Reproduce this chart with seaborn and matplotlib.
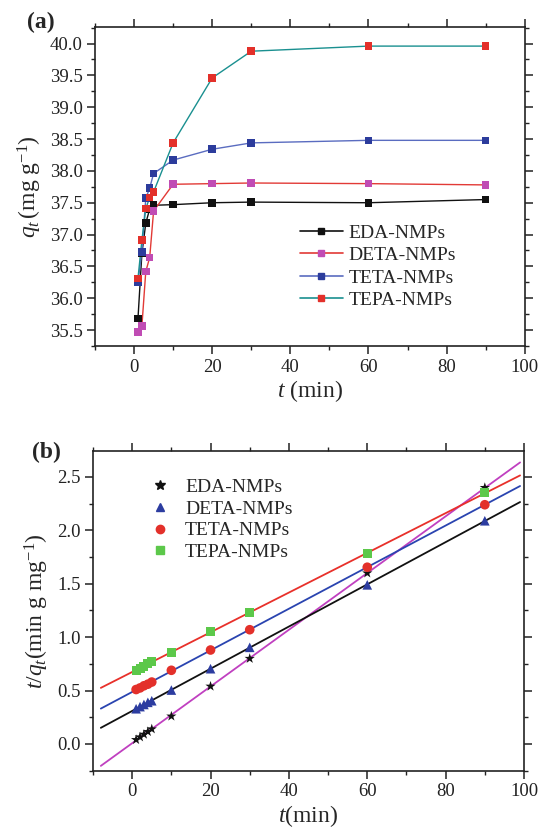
import numpy as np
import pandas as pd
import matplotlib
matplotlib.use("Agg")
import matplotlib.pyplot as plt
from matplotlib.lines import Line2D
from matplotlib.ticker import MultipleLocator
import seaborn as sns

# ---------------- data ----------------
t = [1, 2, 3, 4, 5, 10, 20, 30, 60, 90]
names = ["EDA-NMPs", "DETA-NMPs", "TETA-NMPs", "TEPA-NMPs"]

# panel (a): q_t (mg/g)
qt_eda = [35.68, 36.70, 37.18, 37.40, 37.46, 37.47, 37.50, 37.51, 37.50, 37.55]
qt_deta = [35.47, 35.56, 36.42, 36.64, 37.37, 37.79, 37.80, 37.81, 37.80, 37.78]
qt_teta = [36.25, 36.73, 37.57, 37.73, 37.96, 38.17, 38.34, 38.44, 38.48, 38.48]
qt_tepa = [36.31, 36.91, 37.41, 37.58, 37.67, 38.44, 39.46, 39.88, 39.96, 39.96]

# panel (b): t/q_t (min g/mg)
tq_eda = [0.040, 0.065, 0.090, 0.115, 0.140, 0.260, 0.540, 0.800, 1.600, 2.400]
tq_deta = [0.330, 0.350, 0.370, 0.390, 0.405, 0.505, 0.705, 0.905, 1.490, 2.090]
tq_teta = [0.510, 0.525, 0.545, 0.560, 0.580, 0.690, 0.880, 1.070, 1.655, 2.240]
tq_tepa = [0.690, 0.710, 0.730, 0.750, 0.770, 0.860, 1.050, 1.230, 1.785, 2.350]

fit_range = [-8, 99]

# ---------------- styles ----------------
a_line_colors = ["#111111", "#e23a36", "#5a6cc0", "#1a9090"]
a_mark_colors = ["#111111", "#c04cb4", "#2c3c9c", "#e3302a"]
b_mark_colors = ["#111111", "#2c3ca0", "#e3302a", "#5cc84a"]
b_markers = ["*", "^", "o", "s"]
b_line_colors = ["#c040c0", "#111111", "#2a44b0", "#e8302a"]

sns.set_theme(style="ticks")
plt.rcParams["font.family"] = ["Liberation Serif", "DejaVu Serif"]
plt.rcParams["mathtext.fontset"] = "custom"
plt.rcParams["mathtext.rm"] = "Liberation Serif"
plt.rcParams["mathtext.it"] = "Liberation Serif:italic"
plt.rcParams["mathtext.bf"] = "Liberation Serif:bold"

fig = plt.figure(figsize=(5.39, 8.34), dpi=100)
W, H = 539, 834
def fbox(l, t_, r, b):
    return [l / W, 1 - b / H, (r - l) / W, (b - t_) / H]

axa = fig.add_axes(fbox(95, 27, 524.7, 346))
axb = fig.add_axes(fbox(93, 450.7, 524, 770.7))

# ---------------- panel (a) ----------------
qa = [qt_eda, qt_deta, qt_teta, qt_tepa]
dfa = pd.DataFrame({"t": t * 4,
                    "q": sum(qa, []),
                    "s": sum([[n] * len(t) for n in names], [])})
for i, n in enumerate(names):
    sub = dfa[dfa.s == n]
    sns.lineplot(data=sub, x="t", y="q", ax=axa, color=a_line_colors[i],
                 lw=1.0, legend=False, zorder=2)
for i, n in enumerate(names):
    sub = dfa[dfa.s == n]
    sns.scatterplot(data=sub, x="t", y="q", ax=axa, color=a_mark_colors[i],
                    marker="s", s=30, edgecolor="none", legend=False, zorder=3)

axa.set_xlim(-10, 100)
axa.set_ylim(35.25, 40.26)
axa.xaxis.set_major_locator(MultipleLocator(20))
axa.xaxis.set_minor_locator(MultipleLocator(10))
axa.yaxis.set_major_locator(MultipleLocator(0.5))
axa.yaxis.set_minor_locator(MultipleLocator(0.25))
axa.yaxis.set_major_formatter(matplotlib.ticker.FormatStrFormatter("%.1f"))
axa.set_xlabel(r"$t$ (min)", fontsize=17, labelpad=2)
axa.set_ylabel(r"$q_t\,$(mg g$^{-1}$)", fontsize=17, labelpad=4)

handles_a = [Line2D([0], [0], color=a_line_colors[i], lw=1.2, marker="s",
                    markersize=5, markerfacecolor=a_mark_colors[i],
                    markeredgecolor=a_mark_colors[i]) for i in range(4)]
axa.legend(handles_a, names, loc="upper left",
           bbox_to_anchor=(300 / W, 1 - 224 / H), bbox_transform=fig.transFigure,
           frameon=False, fontsize=14, handlelength=2.2, handletextpad=0.3,
           labelspacing=0.25, borderpad=0, borderaxespad=0)

# ---------------- panel (b) ----------------
qb = [tq_eda, tq_deta, tq_teta, tq_tepa]
xfit = np.linspace(fit_range[0], fit_range[1], 50)
for i, n in enumerate(names):
    k, c = np.polyfit(t, qb[i], 1)
    sns.lineplot(x=xfit, y=k * xfit + c, ax=axb, color=b_line_colors[i],
                 lw=1.3, legend=False, zorder=2)
sizes = [60, 48, 48, 42]
for i, n in enumerate(names):
    sns.scatterplot(x=t, y=qb[i], ax=axb, color=b_mark_colors[i],
                    marker=b_markers[i], s=sizes[i], edgecolor="none",
                    legend=False, zorder=3)

axb.set_xlim(-10, 100)
axb.set_ylim(-0.25, 2.746)
axb.xaxis.set_major_locator(MultipleLocator(20))
axb.xaxis.set_minor_locator(MultipleLocator(10))
axb.yaxis.set_major_locator(MultipleLocator(0.5))
axb.yaxis.set_minor_locator(MultipleLocator(0.25))
axb.yaxis.set_major_formatter(matplotlib.ticker.FormatStrFormatter("%.1f"))
axb.set_xlabel(r"$t$(min)", fontsize=17, labelpad=2)
axb.set_ylabel(r"$t/q_t$(min g mg$^{-1}$)", fontsize=17, labelpad=4)

handles_b = [Line2D([0], [0], ls="none", marker=b_markers[i],
                    markersize=[7, 6, 6, 5.5][i],
                    markerfacecolor=b_mark_colors[i],
                    markeredgecolor=b_mark_colors[i]) for i in range(4)]
axb.legend(handles_b, names, loc="upper left",
           bbox_to_anchor=(150 / W, 1 - 478 / H), bbox_transform=fig.transFigure,
           frameon=False, fontsize=14, handlelength=1.0, handletextpad=0.8,
           labelspacing=0.22, borderpad=0, borderaxespad=0)

for ax in (axa, axb):
    for sp in ax.spines.values():
        sp.set_visible(True)
        sp.set_linewidth(1.2)
        sp.set_color("#222222")
    ax.tick_params(which="both", direction="out", top=True, right=True,
                   labeltop=False, labelright=False, colors="#222222",
                   labelcolor="#222222", labelsize=13.5, pad=3)
    ax.tick_params(which="major", length=6, width=1.1)
    ax.tick_params(which="minor", length=3, width=1.0)

fig.text(27 / W, 1 - 22 / H, "(a)", fontsize=17, fontweight="bold",
         ha="left", va="center")
fig.text(32 / W, 1 - 452 / H, "(b)", fontsize=17, fontweight="bold",
         ha="left", va="center")

fig.savefig("out.png", dpi=100)
